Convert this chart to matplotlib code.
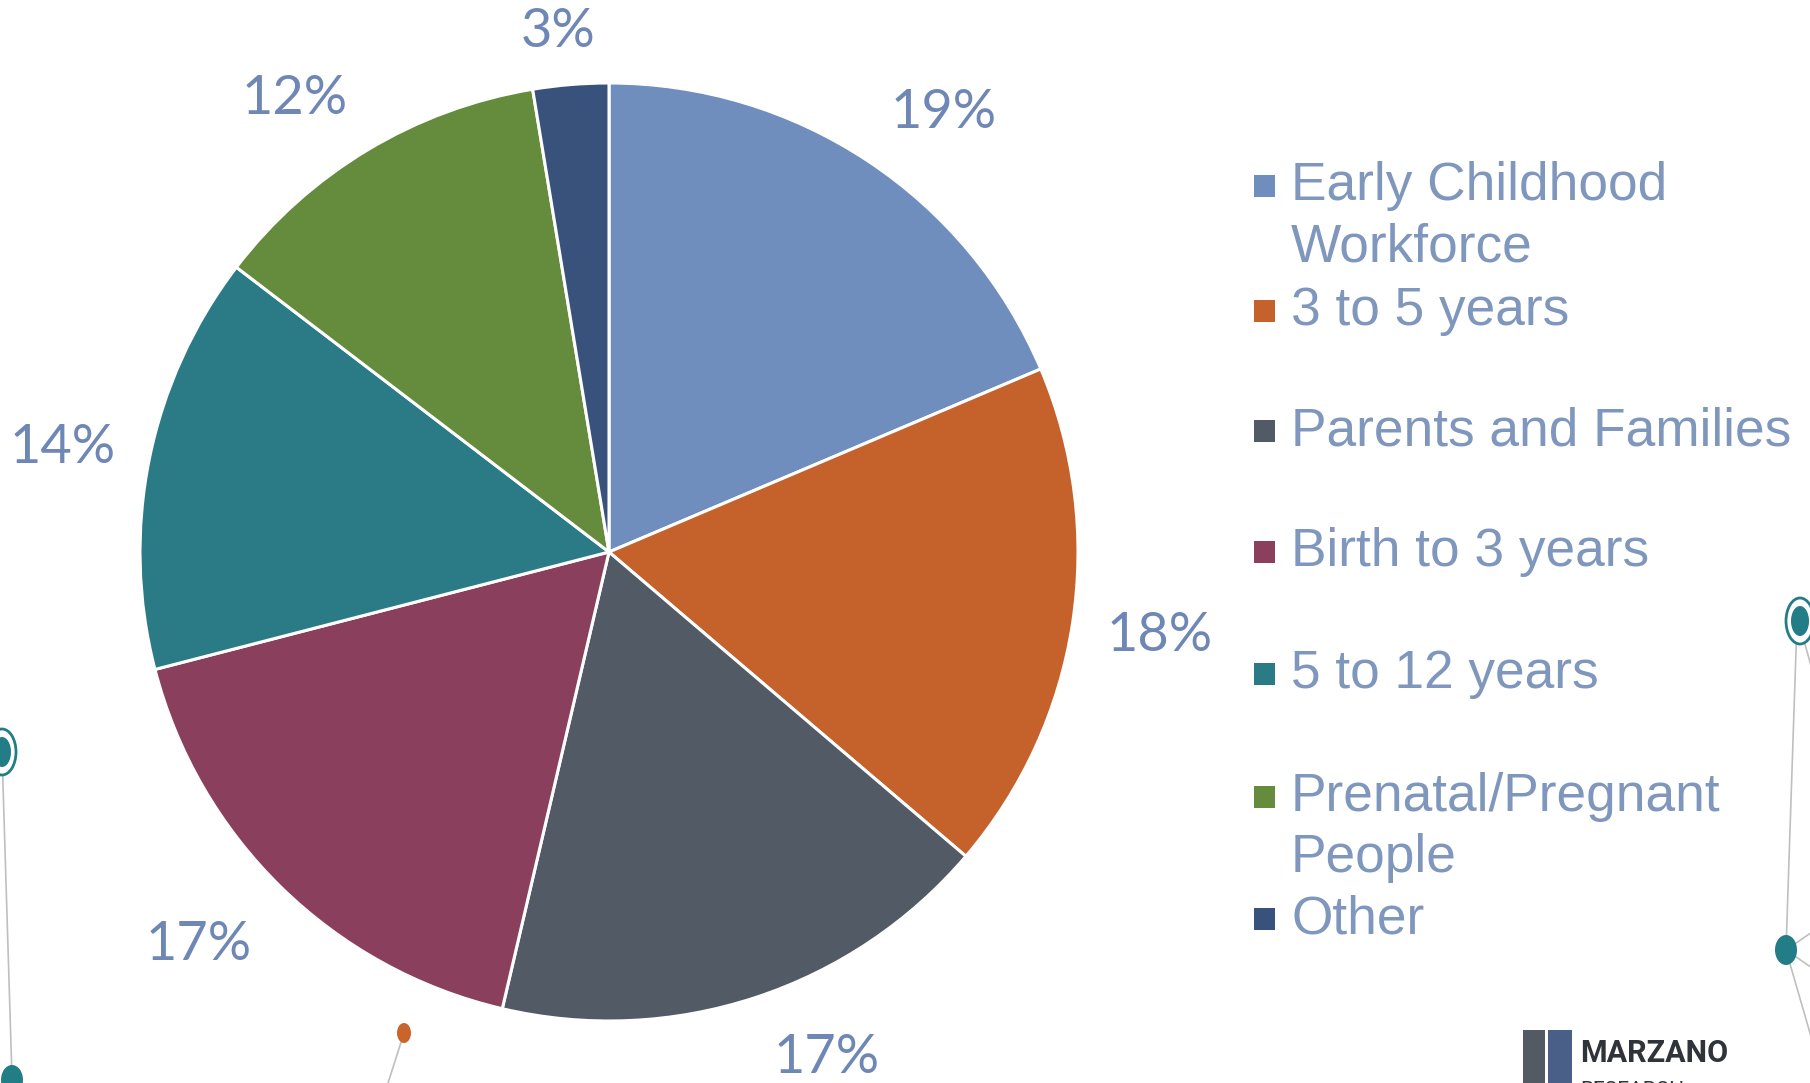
import matplotlib.pyplot as plt
from matplotlib.patches import Rectangle, Ellipse

# shares (percent)
categories = ["Early Childhood\nWorkforce", "3 to 5 years", "Parents and Families",
              "Birth to 3 years", "5 to 12 years", "Prenatal/Pregnant\nPeople", "Other"]
shares = [18.6, 17.6, 17.4, 17.3, 14.4, 12.0, 2.6]
colors = ["#6f8dbd", "#c5622b", "#525a65", "#8a405d", "#2b7b86", "#658b3c", "#39527c"]

# where Excel put the data labels (in pie radii from the centre)
label_xy = [(0.714, 0.938), (1.175, -0.179), (0.463, -1.077), (-0.874, -0.836),
            (-1.166, 0.222), (-0.670, 0.966), (-0.109, 1.109)]

W, H = 1810, 1083
fig = plt.figure(figsize=(W / 100, H / 100), dpi=100)
fig.patch.set_facecolor("white")

# overlay in pixel coords for decoration and legend
bg = fig.add_axes([0, 0, 1, 1])
bg.set_xlim(0, W)
bg.set_ylim(H, 0)
bg.axis("off")

# faint network decoration
grey = "#bfbfbf"
teal = "#237d86"
bg.plot([2, 12], [752, 1078], color=grey, lw=1.2)
bg.plot([1797, 1786], [621, 950], color=grey, lw=1.2)
bg.plot([1801, 1815], [630, 680], color=grey, lw=1.2)
bg.plot([1786, 1815], [950, 930], color=grey, lw=1.2)
bg.plot([1786, 1815], [950, 970], color=grey, lw=1.2)
bg.plot([1786, 1812], [950, 1040], color=grey, lw=1.2)
bg.plot([404, 388], [1033, 1083], color=grey, lw=1.2)
for (cx, cy) in [(2, 752), (1800, 621)]:
    bg.add_patch(Ellipse((cx, cy), 28, 46, facecolor="white", edgecolor=teal, lw=2, zorder=3))
    bg.add_patch(Ellipse((cx, cy), 18, 30, facecolor=teal, edgecolor="none", zorder=4))
bg.add_patch(Ellipse((1786, 950), 22, 30, facecolor=teal, edgecolor="none", zorder=3))
bg.add_patch(Ellipse((12, 1080), 22, 30, facecolor=teal, edgecolor="none", zorder=3))
bg.add_patch(Ellipse((404, 1033), 14, 20, facecolor="#c8642c", edgecolor="none", zorder=3))

# logo
bg.add_patch(Rectangle((1523, 1030), 22, 60, facecolor="#535a63", edgecolor="none"))
bg.add_patch(Rectangle((1548, 1030), 24, 60, facecolor="#4a5f87", edgecolor="none"))
bg.text(1580, 1053, "MARZANO", fontsize=22, fontweight="bold", color="#2f333a",
        family="Roboto", va="center", ha="left")
bg.text(1580, 1090, "RESEARCH", fontsize=15, color="#2f333a",
        family="Roboto", va="center", ha="left")

# pie
cx, cy, r = 609, 552, 469
ax = fig.add_axes([(cx - r) / W, 1 - (cy + r) / H, 2 * r / W, 2 * r / H])
wedges, _, autotexts = ax.pie(
    shares, colors=colors, startangle=90, counterclock=False, radius=1,
    autopct="%.0f%%", pctdistance=1.18,
    wedgeprops=dict(edgecolor="white", linewidth=2.2),
    textprops=dict(fontsize=39, color="#6f87b5", family="Lato"),
)
for t, xy in zip(autotexts, label_xy):
    t.set_position(xy)
ax.set_xlim(-1, 1)
ax.set_ylim(-1, 1)
ax.set_aspect("equal")
ax.axis("off")

# legend drawn by hand (Excel style with wrapped entries)
leg_y = [186, 311, 431, 552, 674, 797, 919]
line_h = 61
for lab, col, y in zip(categories, colors, leg_y):
    bg.add_patch(Rectangle((1254, y - 11), 21, 22, facecolor=col, edgecolor="none"))
    for k, part in enumerate(lab.split("\n")):
        bg.text(1291, y + k * line_h, part, fontsize=38.3, color="#7f96bd",
                family="Liberation Sans", va="center", ha="left")

fig.savefig("out.png", dpi=100, facecolor="white")
